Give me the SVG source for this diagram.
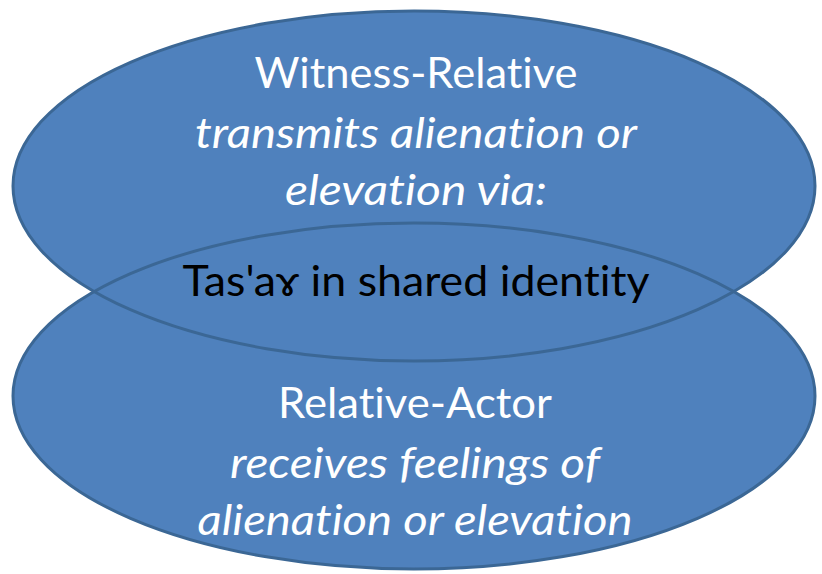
<svg xmlns="http://www.w3.org/2000/svg" width="822" height="574" viewBox="0 0 822 574">
<style>
.fill{fill:#4f81bd;stroke:none}
.edge{fill:none;stroke:#3b6795;stroke-width:3}
text{font-family:Lato,"Open Sans","DejaVu Sans",sans-serif;font-size:42px;text-anchor:middle;font-variant-ligatures:none;font-feature-settings:"liga" 0}
.w{fill:#ffffff}
.i{font-style:italic}
.k{fill:#000000}
</style>
<rect width="822" height="574" fill="#ffffff"/>
<g id="top-ellipse">
<ellipse class="fill" cx="414" cy="186" rx="401" ry="175"/>
</g>
<g id="bottom-ellipse">
<ellipse class="fill" cx="414" cy="396" rx="401" ry="173"/>
</g>
<g id="outlines">
<ellipse class="edge" cx="414" cy="186" rx="401" ry="175"/>
<ellipse class="edge" cx="414" cy="396" rx="401" ry="173"/>
</g>
<g id="top-label">
<text class="w" x="416" y="88" textLength="323" lengthAdjust="spacingAndGlyphs">Witness-Relative</text>
<text class="w i" x="416" y="148" textLength="442" lengthAdjust="spacingAndGlyphs">transmits alienation or</text>
<text class="w i" x="416" y="205" textLength="262" lengthAdjust="spacingAndGlyphs">elevation via:</text>
</g>
<g id="overlap-label">
<text class="k" x="416" y="296" textLength="467" lengthAdjust="spacingAndGlyphs">Tas'aɤ in shared identity</text>
</g>
<g id="bottom-label">
<text class="w" x="415" y="418" textLength="274" lengthAdjust="spacingAndGlyphs">Relative-Actor</text>
<text class="w i" x="415" y="478" textLength="370" lengthAdjust="spacingAndGlyphs">receives feelings of</text>
<text class="w i" x="415" y="535" textLength="435" lengthAdjust="spacingAndGlyphs">alienation or elevation</text>
</g>
</svg>
